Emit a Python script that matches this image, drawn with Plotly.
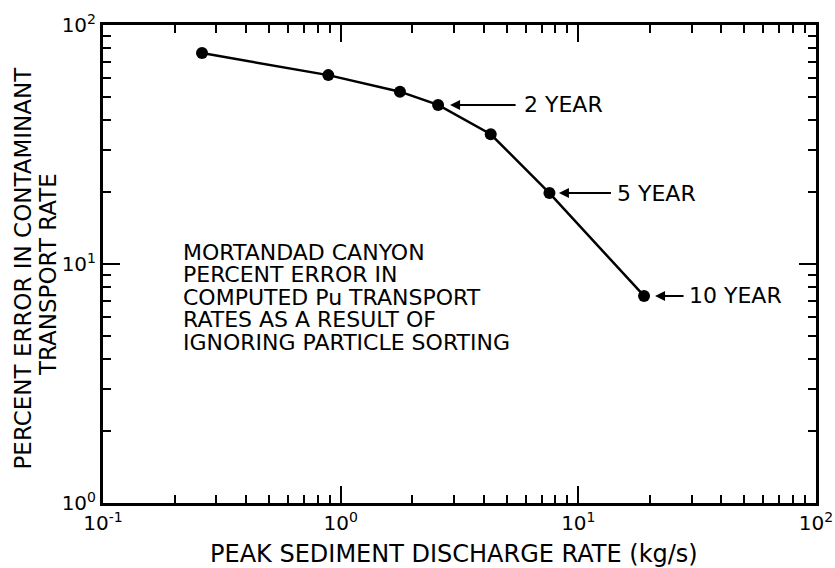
import numpy as np
import plotly.graph_objects as go

# Data
discharge = [0.261, 0.887, 1.776, 2.57, 4.28, 7.56, 18.9]      # kg/s
percent_error = [76.3, 61.7, 52.6, 46.3, 34.9, 19.8, 7.35]      # %

label_index = [3, 5, 6]
label_text = ["2 YEAR", "5 YEAR", "10 YEAR"]

x_tickvals = [0.1, 1, 10, 100]
x_ticktext = ["10<sup>-1</sup>", "10<sup>0</sup>", "10<sup>1</sup>", "10<sup>2</sup>"]
y_tickvals = [1, 10, 100]
y_ticktext = ["10<sup>0</sup>", "10<sup>1</sup>", "10<sup>2</sup>"]

inset_lines = [
    "MORTANDAD CANYON",
    "PERCENT ERROR IN",
    "COMPUTED Pu TRANSPORT",
    "RATES AS A RESULT OF",
    "IGNORING PARTICLE SORTING",
]

x_title = "PEAK SEDIMENT DISCHARGE RATE (kg/s)"
y_title_lines = ["PERCENT ERROR IN CONTAMINANT", "TRANSPORT RATE"]

FONT = "DejaVu Sans"

y_minor = [k * 10.0 ** e for e in range(0, 2) for k in range(2, 10)]

fig = go.Figure()
fig.add_trace(go.Scatter(
    x=discharge, y=percent_error, mode="lines+markers",
    line=dict(color="black", width=2.5),
    marker=dict(color="black", size=12, symbol="circle"),
    showlegend=False, hoverinfo="skip",
))

axis_common = dict(
    showline=True, linewidth=3, linecolor="black", mirror="ticks",
    ticks="inside", ticklen=17, tickwidth=2, tickcolor="black",
    showgrid=False, zeroline=False, ticklabeloverflow="allow",
    automargin=False,
    tickfont=dict(family=FONT, size=20, color="black"),
)

fig.update_xaxes(
    type="log", range=[-1, 2], tickmode="array",
    tickvals=x_tickvals, ticktext=x_ticktext,
    minor=dict(dtick="D1", ticks="inside", ticklen=8,
               tickwidth=2, tickcolor="black", showgrid=False),
    **axis_common,
)
fig.update_yaxes(
    type="log", range=[0, 2], tickmode="array",
    tickvals=y_tickvals, ticktext=y_ticktext,
    minor=dict(tickmode="array", tickvals=y_minor, ticks="inside", ticklen=8,
               tickwidth=2, tickcolor="black", showgrid=False),
    **axis_common,
)

annotations = []
# arrows and labels
arrow_ax = [79, 63, 41]
arrow_standoff = [12, 9.5, 11]
label_shift = [84, 66, 43]
for i, idx in enumerate(label_index):
    lx = np.log10(discharge[idx])
    ly = np.log10(percent_error[idx])
    annotations.append(dict(
        x=lx, y=ly, xref="x", yref="y", text="", showarrow=True,
        ax=arrow_ax[i], ay=0, axref="pixel", ayref="pixel",
        arrowhead=2, arrowsize=1, arrowwidth=2, arrowcolor="black",
        standoff=arrow_standoff[i],
    ))
    annotations.append(dict(
        x=lx, y=ly, xref="x", yref="y", text=label_text[i], showarrow=False,
        xanchor="left", yanchor="middle", xshift=label_shift[i],
        font=dict(family=FONT, size=22, color="black"),
    ))

# inset text
inset_y = [0.524, 0.477, 0.430, 0.383, 0.335]
for t, yy in zip(inset_lines, inset_y):
    annotations.append(dict(
        x=0.1094, y=yy, xref="paper", yref="paper", text=t, showarrow=False,
        xanchor="left", yanchor="middle",
        font=dict(family=FONT, size=22, color="black"),
    ))

# axis titles
annotations.append(dict(
    x=0.4923, y=-0.106, xref="paper", yref="paper", text=x_title,
    showarrow=False, xanchor="center", yanchor="middle",
    font=dict(family=FONT, size=24, color="black"),
))
annotations.append(dict(
    x=-0.1115, y=0.4916, xref="paper", yref="paper", text=y_title_lines[0],
    showarrow=False, xanchor="center", yanchor="middle", textangle=-90,
    font=dict(family=FONT, size=23, color="black"),
))
annotations.append(dict(
    x=-0.0771, y=0.477, xref="paper", yref="paper", text=y_title_lines[1],
    showarrow=False, xanchor="center", yanchor="middle", textangle=-90,
    font=dict(family=FONT, size=23, color="black"),
))

fig.update_layout(
    width=835, height=568,
    margin=dict(l=103, r=19, t=25, b=65),
    paper_bgcolor="white", plot_bgcolor="white",
    annotations=annotations,
    font=dict(family=FONT, color="black"),
)

fig.write_html(
    "out.html",
    config={"displayModeBar": False},
    post_script="document.body.style.margin='0';document.body.style.padding='0';",
)
